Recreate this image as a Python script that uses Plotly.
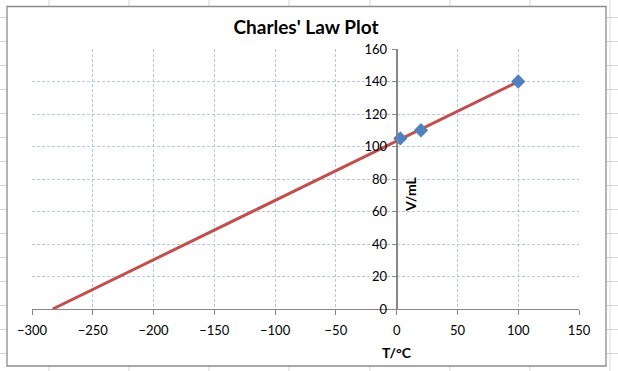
import numpy as np
import plotly.graph_objects as go

# Data
temps_c = [3, 20, 100]
volumes_ml = [105, 110, 140]
x_ticks = [-300, -250, -200, -150, -100, -50, 0, 50, 100, 150]
y_ticks = [0, 20, 40, 60, 80, 100, 120, 140, 160]

# Linear trendline, extended backward to V = 0
m, b = np.polyfit(temps_c, volumes_ml, 1)
trend_x = [-b / m, max(temps_c)]
trend_y = [m * trend_x[0] + b, m * trend_x[1] + b]

W, H = 618, 371
L, R, T, B = 32, 39, 49, 62
PW, PH = W - L - R, H - T - B


def px(x):
    return (x - L) / PW


def py(y):
    return (H - B - y) / PH


shapes = []
sheet = "#d6d6d6"
# spreadsheet column lines
for cx in [49, 129, 209, 289, 370, 450, 530, 610]:
    shapes.append(dict(type="line", xref="paper", yref="paper", layer="below",
                       x0=px(cx), x1=px(cx), y0=py(0), y1=py(H),
                       line=dict(color=sheet, width=1)))
# spreadsheet row lines
for k in range(16):
    ry = 17.5 + 24 * k
    shapes.append(dict(type="line", xref="paper", yref="paper", layer="below",
                       x0=px(0), x1=px(W), y0=py(ry), y1=py(ry),
                       line=dict(color=sheet, width=1)))
# chart frame
shapes.append(dict(type="rect", xref="paper", yref="paper", layer="below",
                   x0=px(7), x1=px(606), y0=py(6.5), y1=py(366),
                   fillcolor="white", line=dict(color="#8c8c8c", width=1.3)))
# y-axis line at x = 0 (drawn over the vertical gridline)
shapes.append(dict(type="line", xref="x", yref="y", layer="between",
                   x0=0, x1=0, y0=0, y1=max(y_ticks),
                   line=dict(color="#868686", width=1.3)))

fig = go.Figure()
fig.add_trace(go.Scatter(x=trend_x, y=trend_y, mode="lines",
                         line=dict(color="#c0504d", width=3),
                         hoverinfo="skip", showlegend=False))
fig.add_trace(go.Scatter(x=temps_c, y=volumes_ml, mode="markers",
                         marker=dict(symbol="diamond", size=11, color="#4f81bd",
                                     line=dict(width=0)),
                         showlegend=False))

font = "Lato, Open Sans, sans-serif"
grid = "#b8c6e4"
fig.update_layout(
    width=W, height=H,
    margin=dict(l=L, r=R, t=T, b=B),
    paper_bgcolor="white",
    plot_bgcolor="rgba(0,0,0,0)",
    hovermode=False,
    font=dict(family=font, size=13, color="#000000"),
    title=dict(text="<b>Charles' Law Plot</b>", x=306 / W, xanchor="center",
               y=1 - 27 / H, yanchor="middle", xref="container", yref="container",
               font=dict(family=font, size=19, color="#000000")),
    shapes=shapes,
    xaxis=dict(range=[-300, 150], tickvals=x_ticks, ticks="outside", ticklen=5,
               tickcolor="#868686", showline=True, linecolor="#868686", linewidth=1.3,
               showgrid=True, gridcolor=grid, griddash="3px,2px", gridwidth=1,
               zeroline=False, ticklabelstandoff=4, domain=[0, 1],
               showspikes=False, fixedrange=True),
    yaxis=dict(range=[0, 160], tickvals=y_ticks, ticks="outside", ticklen=5,
               tickcolor="#868686", showline=True, linecolor="#868686", linewidth=1.3,
               showgrid=True, gridcolor=grid, griddash="3px,2px", gridwidth=1,
               zeroline=False, anchor="free", position=300 / 450,
               ticklabelstandoff=2, showspikes=False, fixedrange=True),
    annotations=[
        dict(text="<b>T/°C</b>", xref="paper", yref="paper", x=px(397), y=py(352),
             showarrow=False, xanchor="center", yanchor="middle",
             font=dict(family=font, size=14, color="#000000")),
        dict(text="<b>V/mL</b>", xref="paper", yref="paper", x=px(410), y=py(195),
             showarrow=False, textangle=-90, xanchor="center", yanchor="middle",
             font=dict(family=font, size=14, color="#000000")),
    ],
)

fig.write_html("out.html",
               config={"displayModeBar": False, "staticPlot": True},
               post_script="document.body.style.margin='0';"
                           "document.body.style.overflow='hidden';")
